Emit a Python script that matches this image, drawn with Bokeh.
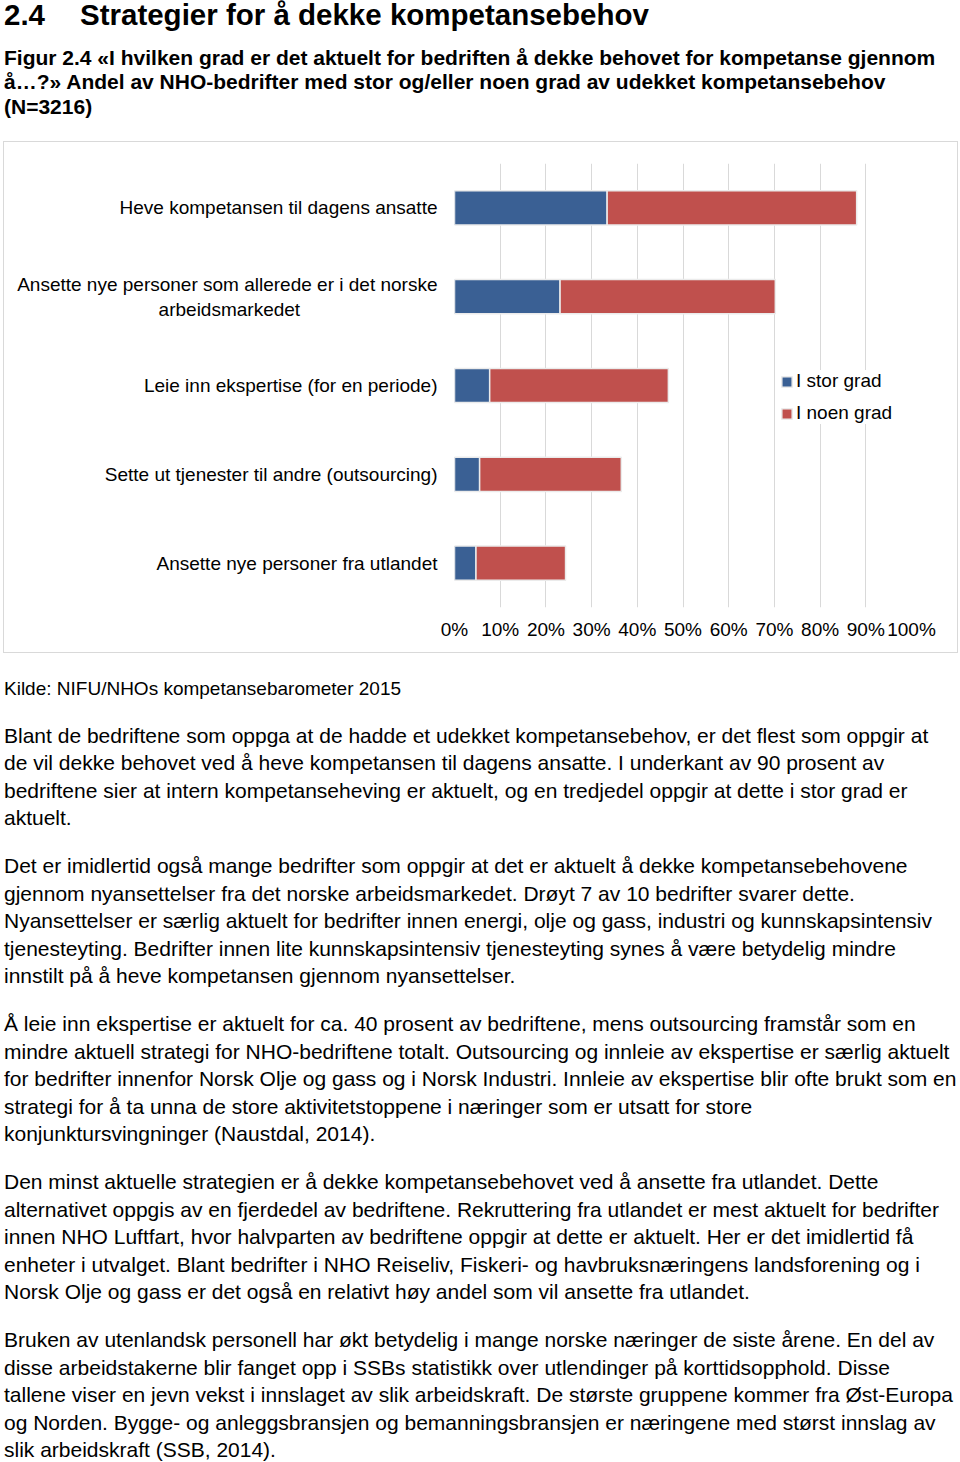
from bokeh.plotting import figure
from bokeh.models import Div, FactorRange, Range1d, FixedTicker, PrintfTickFormatter, ColumnDataSource
from bokeh.layouts import column
from bokeh.embed import file_html
from bokeh.resources import INLINE

# ---------------- data ----------------
categories = [
    "Heve kompetansen til dagens ansatte",
    "Ansette nye personer som allerede er i det norske\narbeidsmarkedet",
    "Leie inn ekspertise (for en periode)",
    "Sette ut tjenester til andre (outsourcing)",
    "Ansette nye personer fra utlandet",
]
i_stor_grad = [33.4, 23.1, 7.7, 5.5, 4.7]
i_noen_grad = [54.6, 47.1, 39.1, 31.0, 19.6]
series_names = ["I stor grad", "I noen grad"]
tick_values = [0, 10, 20, 30, 40, 50, 60, 70, 80, 90, 100]

heading_num = "2.4"
heading_text = "Strategier for å dekke kompetansebehov"
caption_lines = [
    "Figur 2.4 «I hvilken grad er det aktuelt for bedriften å dekke behovet for kompetanse gjennom",
    "å…?» Andel av NHO-bedrifter med stor og/eller noen grad av udekket kompetansebehov",
    "(N=3216)",
]
source_text = "Kilde: NIFU/NHOs kompetansebarometer 2015"
paragraphs = [
    ["Blant de bedriftene som oppga at de hadde et udekket kompetansebehov, er det flest som oppgir at",
     "de vil dekke behovet ved å heve kompetansen til dagens ansatte. I underkant av 90 prosent av",
     "bedriftene sier at intern kompetanseheving er aktuelt, og en tredjedel oppgir at dette i stor grad er",
     "aktuelt."],
    ["Det er imidlertid også mange bedrifter som oppgir at det er aktuelt å dekke kompetansebehovene",
     "gjennom nyansettelser fra det norske arbeidsmarkedet. Drøyt 7 av 10 bedrifter svarer dette.",
     "Nyansettelser er særlig aktuelt for bedrifter innen energi, olje og gass, industri og kunnskapsintensiv",
     "tjenesteyting. Bedrifter innen lite kunnskapsintensiv tjenesteyting synes å være betydelig mindre",
     "innstilt på å heve kompetansen gjennom nyansettelser."],
    ["Å leie inn ekspertise er aktuelt for ca. 40 prosent av bedriftene, mens outsourcing framstår som en",
     "mindre aktuell strategi for NHO-bedriftene totalt. Outsourcing og innleie av ekspertise er særlig aktuelt",
     "for bedrifter innenfor Norsk Olje og gass og i Norsk Industri. Innleie av ekspertise blir ofte brukt som en",
     "strategi for å ta unna de store aktivitetstoppene i næringer som er utsatt for store",
     "konjunktursvingninger (Naustdal, 2014)."],
    ["Den minst aktuelle strategien er å dekke kompetansebehovet ved å ansette fra utlandet. Dette",
     "alternativet oppgis av en fjerdedel av bedriftene. Rekruttering fra utlandet er mest aktuelt for bedrifter",
     "innen NHO Luftfart, hvor halvparten av bedriftene oppgir at dette er aktuelt. Her er det imidlertid få",
     "enheter i utvalget. Blant bedrifter i NHO Reiseliv, Fiskeri- og havbruksnæringens landsforening og i",
     "Norsk Olje og gass er det også en relativt høy andel som vil ansette fra utlandet."],
    ["Bruken av utenlandsk personell har økt betydelig i mange norske næringer de siste årene. En del av",
     "disse arbeidstakerne blir fanget opp i SSBs statistikk over utlendinger på korttidsopphold. Disse",
     "tallene viser en jevn vekst i innslaget av slik arbeidskraft. De største gruppene kommer fra Øst-Europa",
     "og Norden. Bygge- og anleggsbransjen og bemanningsbransjen er næringene med størst innslag av",
     "slik arbeidskraft (SSB, 2014)."],
]

FONT = "'Liberation Sans', Arial, sans-serif"
BLUE = "#3A6094"
RED = "#C0504D"

# ---------------- top text ----------------
top_html = (
    f'<div style="font-family:{FONT};color:#000;white-space:nowrap;margin:0;padding:0 0 0 1px;">'
    f'<div style="font-size:29.5px;font-weight:bold;line-height:29px;height:30px;">'
    f'<span style="display:inline-block;width:76px;">{heading_num}</span>{heading_text}</div>'
    f'<div style="font-size:21px;font-weight:bold;line-height:24.5px;padding-top:15.5px;">'
    + "<br>".join(caption_lines) +
    '</div></div>'
)
top_div = Div(text=top_html, width=957, height=141, margin=(0, 0, 0, 0))

# ---------------- chart ----------------
# multi-line label: pad second line so it sits centred under the first
y_labels = [c + ("\u2007" * 13 if "\n" in c else "") for c in categories]
factors = list(reversed(y_labels))
src = ColumnDataSource(dict(cat=y_labels, stor=i_stor_grad, noen=i_noen_grad))

p = figure(width=955, height=512, y_range=FactorRange(factors=factors),
           x_range=Range1d(0, 100), output_backend="svg", toolbar_location=None,
           min_border_left=450, min_border_right=48, min_border_top=21, min_border_bottom=47,
           outline_line_color=None, margin=(0, 0, 0, 0),
           styles={"border": "1px solid #d9d9d9"})

p.hbar_stack(["stor", "noen"], y="cat", height=0.385, color=[BLUE, RED],
             line_color="#EBEBEB", line_width=1.5, source=src,
             legend_label=series_names)

p.xgrid.ticker = FixedTicker(ticks=tick_values)
p.xgrid.grid_line_color = "#D9D9D9"
p.xgrid.grid_line_width = 1
p.ygrid.grid_line_color = None

p.xaxis.ticker = FixedTicker(ticks=tick_values)
p.xaxis.formatter = PrintfTickFormatter(format="%d%%")
p.xaxis.axis_line_color = None
p.xaxis.major_tick_line_color = None
p.xaxis.minor_tick_line_color = None
p.xaxis.major_label_standoff = 5
p.xaxis.major_label_text_font = "Liberation Sans"
p.xaxis.major_label_text_font_size = "19px"
p.xaxis.major_label_text_color = "#000000"

p.yaxis.axis_line_color = None
p.yaxis.major_tick_line_color = None
p.yaxis.major_label_standoff = 11
p.yaxis.major_label_text_font = "Liberation Sans"
p.yaxis.major_label_text_font_size = "19px"
p.yaxis.major_label_text_color = "#000000"

lg = p.legend[0]
lg.location = (326, 183)
lg.border_line_color = None
lg.background_fill_color = "white"
lg.background_fill_alpha = 1
lg.padding = 10
lg.margin = 0
lg.spacing = 10
lg.glyph_width = 13
lg.glyph_height = 13
lg.label_height = 22
lg.label_standoff = 3
lg.label_text_font = "Liberation Sans"
lg.label_text_font_size = "19px"
lg.label_text_color = "#000000"

# ---------------- bottom text ----------------
para_html = ""
margins = [19.5, 20.5, 20.5, 20.5, 20.5]
for m, lines in zip(margins, paragraphs):
    para_html += f'<div style="margin-top:{m}px;">' + "<br>".join(lines) + '</div>'
bottom_html = (
    f'<div style="font-family:{FONT};color:#000;white-space:nowrap;font-size:21px;'
    f'line-height:27.5px;padding:21.75px 0 0 1px;margin:0;">'
    f'<div style="font-size:19px;">{source_text}</div>' + para_html + '</div>'
)
bottom_div = Div(text=bottom_html, width=957, height=809, margin=(0, 0, 0, 0))

layout = column(top_div, p, bottom_div, spacing=0, margin=(0, 0, 0, 3))

open("out.html", "w").write(file_html(layout, INLINE))
